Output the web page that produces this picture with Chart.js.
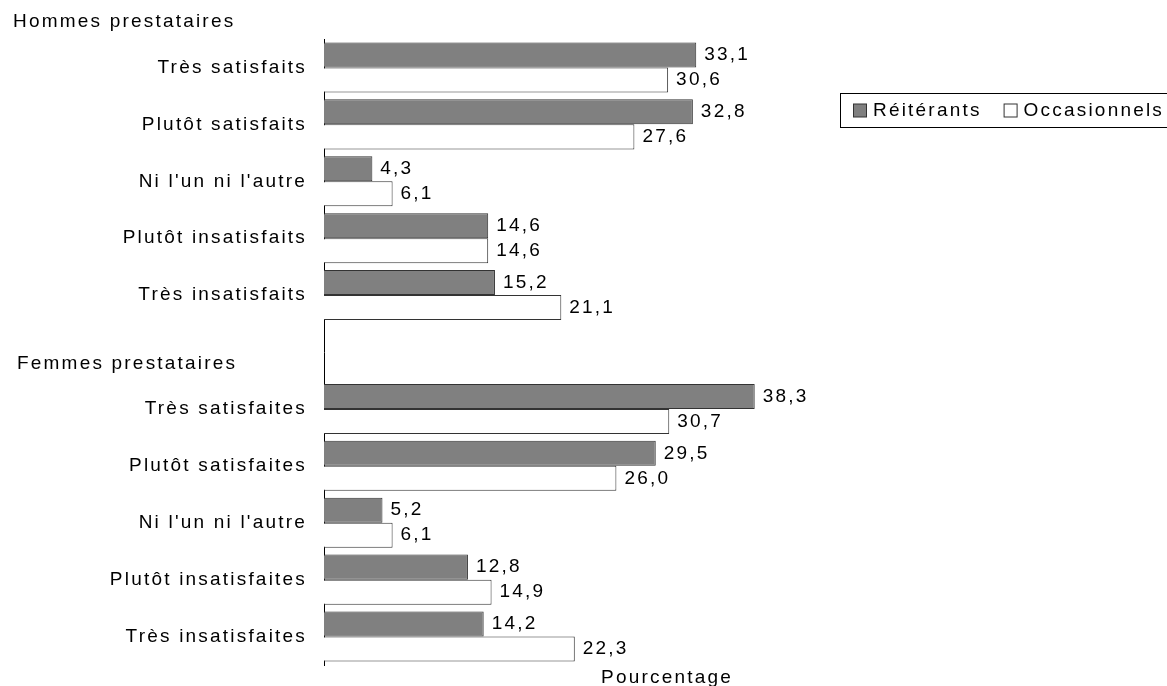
<!DOCTYPE html>
<html>
<head>
<meta charset="utf-8">
<script src="https://cdn.jsdelivr.net/npm/chart.js@4"></script>
<style>
html, body { margin: 0; padding: 0; background: #fff; }
#wrap { width: 1167px; height: 686px; }
</style>
</head>
<body>
<div id="wrap"><canvas id="satisf"></canvas></div>
<script>
var groups = ['Hommes prestataires', 'Femmes prestataires'];
var menLabels = ['Très satisfaits', 'Plutôt satisfaits', "Ni l'un ni l'autre", 'Plutôt insatisfaits', 'Très insatisfaits'];
var womenLabels = ['Très satisfaites', 'Plutôt satisfaites', "Ni l'un ni l'autre", 'Plutôt insatisfaites', 'Très insatisfaites'];
var menRepeat = [33.1, 32.8, 4.3, 14.6, 15.2];
var menOccas = [30.6, 27.6, 6.1, 14.6, 21.1];
var womenRepeat = [38.3, 29.5, 5.2, 12.8, 14.2];
var womenOccas = [30.7, 26.0, 6.1, 14.9, 22.3];
var seriesNames = ['Réitérants', 'Occasionnels'];
var axisTitle = 'Pourcentage';

// blank row between men and women
var labels = menLabels.concat([''], womenLabels);
var repeatData = menRepeat.concat([null], womenRepeat);
var occasData = menOccas.concat([null], womenOccas);

var FAMILY = '"Liberation Sans", Arial, sans-serif';
var FONT = '19px ' + FAMILY;
var SPACING = '2.2px';

Chart.defaults.font.family = FAMILY;
Chart.defaults.font.size = 19;
Chart.defaults.color = '#000';

function fmt(v) {
	return v.toFixed(1).replace('.', ',');
}

var extras = {
	id: 'extras',
	beforeLayout: function(chart) { chart.ctx.letterSpacing = SPACING; },
	beforeDraw: function(chart) { chart.ctx.letterSpacing = SPACING; },
	afterDatasetsDraw: function(chart) {
		var ctx = chart.ctx;
		ctx.save();
		ctx.font = FONT;
		ctx.fillStyle = '#000';
		ctx.textAlign = 'left';
		ctx.textBaseline = 'middle';
		chart.data.datasets.forEach(function(ds, i) {
			chart.getDatasetMeta(i).data.forEach(function(bar, j) {
				var v = ds.data[j];
				if (v == null) return;
				ctx.fillText(fmt(v), bar.x + 8, bar.y);
			});
		});
		ctx.restore();
	},
	afterDraw: function(chart) {
		var ctx = chart.ctx;
		var area = chart.chartArea;
		var y = chart.scales.y;
		ctx.save();
		ctx.font = FONT;
		ctx.fillStyle = '#000';
		ctx.textAlign = 'left';
		ctx.textBaseline = 'middle';
		// group headings
		ctx.fillText(groups[0], 13, area.top - 17);
		ctx.fillText(groups[1], 17, y.getPixelForValue(5) + 11.5);

		// legend box
		ctx.strokeStyle = '#000';
		ctx.lineWidth = 1;
		ctx.strokeRect(840.5, 93.5, 340, 34);
		var x = 853;
		var mid = 110.5;
		chart.data.datasets.forEach(function(ds) {
			ctx.fillStyle = ds.backgroundColor;
			ctx.fillRect(x + 0.5, mid - 6.5, 13, 13);
			ctx.strokeStyle = ds.borderColor;
			ctx.strokeRect(x + 0.5, mid - 6.5, 13, 13);
			ctx.fillStyle = '#000';
			ctx.fillText(ds.label, x + 20, mid);
			x += 20 + ctx.measureText(ds.label).width + 22;
		});
		ctx.restore();
	}
};

new Chart(document.getElementById('satisf'), {
	type: 'bar',
	data: {
		labels: labels,
		datasets: [
			{
				label: seriesNames[0],
				data: repeatData,
				backgroundColor: '#808080',
				borderColor: '#333',
				borderWidth: 1,
				categoryPercentage: 0.879,
				barPercentage: 1
			},
			{
				label: seriesNames[1],
				data: occasData,
				backgroundColor: '#fff',
				borderColor: '#333',
				borderWidth: 1,
				categoryPercentage: 0.879,
				barPercentage: 1
			}
		]
	},
	options: {
		indexAxis: 'y',
		responsive: true,
		maintainAspectRatio: false,
		animation: false,
		layout: { padding: { top: 39, right: 157, bottom: 0, left: 0 } },
		plugins: {
			legend: { display: false },
			tooltip: { enabled: false }
		},
		scales: {
			x: {
				min: 0,
				max: 61,
				grid: { display: false },
				border: { display: false },
				ticks: { display: false },
				title: { display: true, text: axisTitle, color: '#000', padding: { top: 0, bottom: -3 } },
				afterFit: function(scale) { scale.height = 21; }
			},
			y: {
				grid: { display: false },
				border: { display: true, color: '#000', width: 1 },
				ticks: { color: '#000', padding: 9, autoSkip: false },
				afterFit: function(scale) { scale.width = 324; }
			}
		}
	},
	plugins: [extras]
});
</script>
</body>
</html>
